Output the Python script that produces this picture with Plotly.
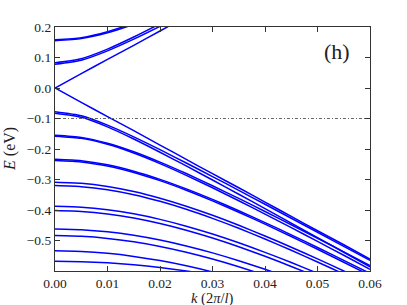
import plotly.graph_objects as go

# wave vector k (2*pi/l)
k = [0.0, 0.005, 0.01, 0.015, 0.02, 0.025, 0.03, 0.035, 0.04, 0.045, 0.05, 0.055, 0.06]

# Dirac branches (eV)
dirac_up = [0.0, 0.047, 0.094, 0.140, 0.187, 0.234, 0.281, 0.327, 0.374, 0.421, 0.468, 0.514, 0.561]
dirac_down = [-v for v in dirac_up]

# conduction bands (eV)
cb1a = [0.078, 0.0912, 0.1218, 0.1602, 0.2022, 0.2458, 0.2904, 0.3356, 0.3812, 0.427, 0.473, 0.5191, 0.5653]
cb1b = [0.083, 0.0962, 0.1275, 0.1672, 0.2106, 0.2556, 0.3016, 0.3483, 0.3955, 0.443, 0.4907, 0.5386, 0.5866]
cb2a = [0.155, 0.1619, 0.181, 0.209, 0.2429, 0.2805, 0.3205, 0.3621, 0.4049, 0.4484, 0.4925, 0.5371, 0.582]
cb2b = [0.158, 0.1651, 0.1846, 0.2133, 0.2479, 0.2863, 0.3272, 0.3697, 0.4134, 0.4578, 0.5029, 0.5484, 0.5943]

# valence bands (eV)
vb1a = [-v for v in cb1a]
vb1b = [-v for v in cb1b]
vb2a = [-v for v in cb2a]
vb2b = [-v for v in cb2b]
vb3a = [-0.234, -0.2386, -0.252, -0.2728, -0.2995, -0.3308, -0.3653, -0.4023, -0.4412, -0.4814, -0.5228, -0.565, -0.6078]
vb3b = [-0.238, -0.2426, -0.2561, -0.277, -0.3038, -0.3352, -0.37, -0.4073, -0.4465, -0.487, -0.5287, -0.5713, -0.6145]
vb4a = [-0.309, -0.3125, -0.3228, -0.3393, -0.3612, -0.3875, -0.4173, -0.4501, -0.4851, -0.522, -0.5604, -0.5999, -0.6405]
vb4b = [-0.320, -0.3235, -0.3336, -0.3499, -0.3716, -0.3977, -0.4274, -0.46, -0.495, -0.532, -0.5704, -0.61, -0.6507]
vb5a = [-0.388, -0.3908, -0.3991, -0.4126, -0.4307, -0.453, -0.4788, -0.5076, -0.5389, -0.5723, -0.6075, -0.6442, -0.6821]
vb5b = [-0.402, -0.4048, -0.4129, -0.4262, -0.4442, -0.4662, -0.4918, -0.5204, -0.5516, -0.585, -0.6201, -0.6568, -0.6947]
vb6a = [-0.462, -0.4644, -0.4714, -0.4828, -0.4984, -0.5178, -0.5405, -0.5662, -0.5944, -0.6249, -0.6573, -0.6913, -0.7267]
vb6b = [-0.484, -0.4863, -0.4931, -0.5043, -0.5195, -0.5385, -0.5608, -0.5861, -0.614, -0.6441, -0.6762, -0.7099, -0.7452]
vb7a = [-0.534, -0.536, -0.5421, -0.5521, -0.5658, -0.5829, -0.6032, -0.6263, -0.652, -0.68, -0.71, -0.741, -0.7745]
vb7b = [-0.568, -0.5693, -0.5732, -0.5796, -0.5885, -0.5997, -0.6132, -0.6287, -0.6461, -0.6653, -0.6862, -0.7085, -0.7321]

fermi_level = -0.1

x_ticks = [0.0, 0.01, 0.02, 0.03, 0.04, 0.05, 0.06]
y_ticks = [0.2, 0.1, 0.0, -0.1, -0.2, -0.3, -0.4, -0.5]

bands = [dirac_up, dirac_down, cb1a, cb1b, cb2a, cb2b, vb1a, vb1b, vb2a, vb2b,
         vb3a, vb3b, vb4a, vb4b, vb5a, vb5b, vb6a, vb6b, vb7a, vb7b]

fig = go.Figure()
for b in bands:
    fig.add_trace(go.Scatter(x=k, y=b, mode="lines",
                             line=dict(color="#0000ff", width=1.5, shape="spline", smoothing=0.6),
                             showlegend=False, hoverinfo="skip"))

fig.add_trace(go.Scatter(x=[k[0], k[-1]], y=[fermi_level, fermi_level], mode="lines",
                         line=dict(color="#666666", width=1.2, dash="3px,2px,1px,2px"),
                         showlegend=False, hoverinfo="skip"))

serif = "Liberation Serif"
text_color = "#222222"
axis_common = dict(showline=True, linecolor="#333333", linewidth=1.2, mirror="ticks",
                   ticks="inside", ticklen=5, tickcolor="#333333", showgrid=False,
                   zeroline=False, automargin=False,
                   tickfont=dict(family=serif, size=13.5, color=text_color))

fig.update_layout(
    width=407, height=305,
    margin=dict(l=55, r=37, t=27, b=34),
    paper_bgcolor="white", plot_bgcolor="white",
    xaxis=dict(range=[0, 0.06], tickvals=x_ticks, tickformat=".2f", **axis_common),
    yaxis=dict(range=[-0.6, 0.2], tickvals=y_ticks, tickformat=".1f", **axis_common),
    annotations=[
        dict(text="(h)", x=0.895, y=0.898, xref="paper", yref="paper",
             xanchor="center", yanchor="middle", showarrow=False,
             font=dict(family=serif, size=22, color=text_color)),
        dict(text="<i>k</i> (2<i>π</i>/<i>l</i>)", x=0.498, y=-0.114, xref="paper", yref="paper",
             xanchor="center", yanchor="middle", showarrow=False,
             font=dict(family=serif, size=14.5, color=text_color)),
        dict(text="<i>E</i> (eV)", x=-0.143, y=0.5, xref="paper", yref="paper",
             xanchor="center", yanchor="middle", showarrow=False, textangle=-90,
             font=dict(family=serif, size=16, color=text_color)),
    ],
)

fig.write_html("out.html", config={"displayModeBar": False},
               post_script="document.body.style.margin='0';")
